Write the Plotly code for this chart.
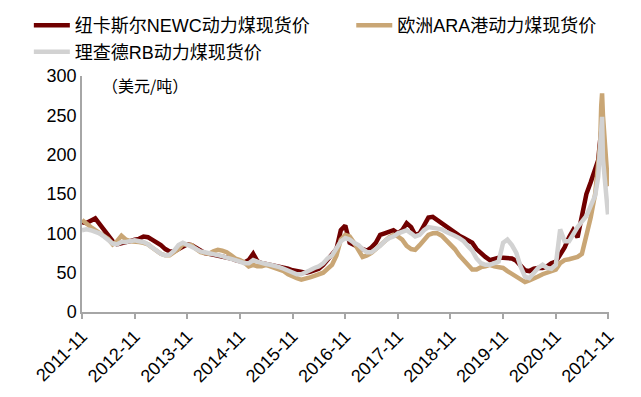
import pandas as pd
import plotly.graph_objects as go

# Monthly dates 2011-11 .. 2021-08, then denser points for the autumn 2021 spike
month_dates = [d.strftime("%Y-%m-%d") for d in pd.date_range("2011-11-01", "2021-08-01", freq="MS")]
tail_dates = ["2021-08-22", "2021-09-05", "2021-09-12", "2021-09-18",
              "2021-09-24", "2021-10-08", "2021-10-22", "2021-10-29"]

newc_monthly = [
    114, 113, 116, 119, 112, 104, 97, 90, 86, 87, 88, 90,
    92, 93, 96, 95, 92, 89, 85, 80, 77, 77, 80, 84,
    86, 85, 82, 78, 75, 74, 73, 72, 71, 70, 68, 66,
    64, 63, 66, 74, 65, 62, 61, 60, 59, 58, 57, 55,
    53, 52, 50, 50, 51, 53, 55, 60, 66, 72, 80, 104,
    110, 88, 85, 82, 80, 78, 82, 88, 98, 100, 102, 104,
    100, 104, 113, 108, 98, 100, 110, 120, 121, 117, 113, 108,
    104, 101, 97, 94, 91, 88, 80, 74, 70, 66, 68, 69,
    69, 69, 68, 65, 60, 53, 52, 55, 56, 56, 58, 62,
    64, 72, 82, 95, 104, 95, 125, 150, 165, 181,
]
newc_tail = [193, 219, 232, 240, 210, 185, 168, 160]

ara_monthly = [
    117, 112, 108, 104, 100, 97, 93, 86, 90, 97, 92, 90,
    90, 89, 88, 86, 82, 78, 74, 72, 72, 76, 80, 86,
    86, 85, 80, 76, 75, 74, 77, 79, 78, 76, 72, 68,
    66, 63, 58, 60, 58, 58, 60, 58, 57, 55, 52, 48,
    45, 43, 41, 42, 44, 46, 48, 50, 55, 60, 72, 92,
    98, 96, 88, 78, 70, 72, 75, 80, 85, 90, 95, 98,
    96, 92, 84, 80, 79, 85, 92, 98, 100, 100, 97, 92,
    85, 80, 72, 66, 60, 54, 54, 57, 58, 60, 58, 57,
    56, 52, 48, 45, 42, 38, 40, 42, 45, 48, 50, 52,
    54, 62, 66, 67, 68, 70, 74, 95, 120, 150,
]
ara_tail = [185, 215, 262, 278, 250, 215, 180, 160]

rb_monthly = [
    104, 105, 104, 102, 100, 96, 92, 87, 86, 89, 89, 90,
    91, 90, 89, 86, 82, 78, 74, 72, 73, 78, 85, 88,
    86, 83, 80, 77, 76, 75, 74, 72, 71, 69, 68, 66,
    64, 62, 62, 66, 64, 62, 61, 60, 59, 57, 55, 53,
    51, 48, 48, 50, 53, 56, 58, 62, 68, 72, 80, 90,
    94, 92, 88, 85, 80, 76, 76, 80, 84, 90, 94, 96,
    100, 102, 104, 100, 96, 98, 104, 108, 107, 107, 105, 102,
    100, 97, 94, 90, 84, 78, 68, 62, 60, 60, 62, 64,
    88, 92, 85, 75, 58, 45, 43, 50, 56, 60, 56, 55,
    60, 105, 90, 90, 100, 108, 115, 122, 135, 148,
]
rb_tail = [172, 215, 240, 248, 195, 160, 135, 124]

series_names = ["纽卡斯尔NEWC动力煤现货价", "欧洲ARA港动力煤现货价", "理查德RB动力煤现货价"]
series_colors = ["#700000", "#C9A675", "#D2D2D2"]
series_legends = ["legend", "legend2", "legend"]

dates = month_dates + tail_dates
series_values = [newc_monthly + newc_tail, ara_monthly + ara_tail, rb_monthly + rb_tail]

FONT = "Liberation Sans, Arial, Noto Sans CJK SC, sans-serif"

fig = go.Figure()
for name, color, lg, vals in zip(series_names, series_colors, series_legends, series_values):
    fig.add_trace(go.Scatter(x=dates, y=vals, name=name, mode="lines", legend=lg,
                             line=dict(color=color, width=4.5)))

axis_color = "#A6A6A6"
legend_common = dict(xref="container", yref="container", xanchor="left", yanchor="top",
                     font=dict(family=FONT, size=18, color="black"),
                     bgcolor="rgba(0,0,0,0)", itemwidth=36, tracegroupgap=0,
                     orientation="v")
fig.update_layout(
    width=641, height=397, autosize=False,
    margin=dict(l=82, r=32, t=76, b=85, autoexpand=False),
    plot_bgcolor="white", paper_bgcolor="white",
    font=dict(family=FONT, size=18, color="black"),
    showlegend=True,
    legend=dict(x=0.045, y=0.982, **legend_common),
    legend2=dict(x=0.548, y=0.982, **legend_common),
    xaxis=dict(type="date", range=["2011-11-01", "2021-11-05"],
               tick0="2011-11-01", dtick="M12", tickformat="%Y-%m",
               tickangle=-45, showgrid=False, zeroline=False,
               showline=True, linecolor=axis_color, linewidth=1.5,
               ticks="outside", ticklen=5, tickcolor=axis_color, tickwidth=1.5,
               tickfont=dict(size=18)),
    yaxis=dict(range=[0, 300], dtick=50, showgrid=False, zeroline=False,
               showline=True, linecolor=axis_color, linewidth=1.5,
               ticks="", tickfont=dict(size=18)),
    annotations=[dict(text="（美元/吨）", xref="paper", yref="paper",
                      x=0.034, y=0.962, xanchor="left", yanchor="middle",
                      showarrow=False,
                      font=dict(family="Noto Sans CJK SC, sans-serif", size=16))],
)

fig.write_html("out.html", config={"displayModeBar": False},
               post_script="document.body.style.margin='0';document.body.style.overflow='hidden';")
